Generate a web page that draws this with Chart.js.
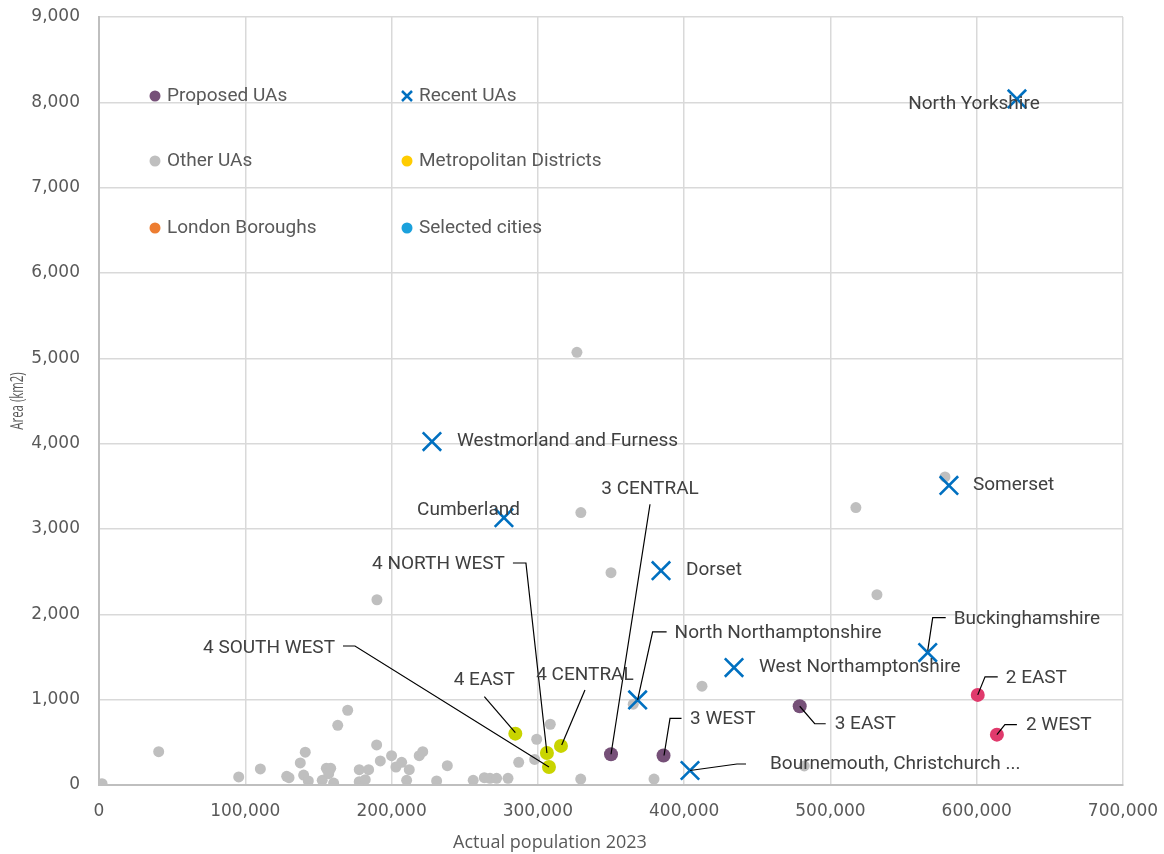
<!DOCTYPE html>
<html>
<head>
<meta charset="utf-8">
<script src="https://cdn.jsdelivr.net/npm/chart.js@4.4.1/dist/chart.umd.min.js"></script>
<style>
  html, body { margin: 0; padding: 0; background: #ffffff; }
  #wrap { width: 1164px; height: 854px; }
</style>
</head>
<body>
<div id="wrap"><canvas id="chart" width="1164" height="854"></canvas></div>
<script>
// ---- Data: population (2023) and area (km2) ----
const recentNames = ['North Yorkshire', 'Somerset', 'Westmorland and Furness', 'Cumberland', 'Dorset',
  'North Northamptonshire', 'West Northamptonshire', 'Buckinghamshire', 'Bournemouth, Christchurch ...'];
const recentPop  = [627500, 581000, 227600, 276800, 384200, 368200, 434100, 566500, 404000];
const recentArea = [8040, 3510, 4025, 3133, 2511, 997, 1376, 1552, 170];

const threeNames = ['3 CENTRAL', '3 WEST', '3 EAST'];
const threePop   = [350000, 385900, 479000];
const threeArea  = [360, 346, 923];

const fourNames = ['4 EAST', '4 NORTH WEST', '4 SOUTH WEST', '4 CENTRAL'];
const fourPop   = [284600, 306200, 307600, 315800];
const fourArea  = [602, 375, 211, 458];

const twoNames = ['2 EAST', '2 WEST'];
const twoPop   = [600700, 613800];
const twoArea  = [1056, 590];

const otherPop = [2100, 40800, 95500, 110300, 128300, 129900, 137600, 141000, 139900, 143100,
  152600, 155400, 158400, 157000, 160400, 163200, 170000, 177900, 184300, 177900,
  182000, 189800, 192300, 200000, 203000, 206900, 212100, 210300, 218900, 221300,
  230800, 238100, 255800, 263400, 267300, 271800, 279600, 286900, 297800, 299200,
  308500, 329300, 379400, 365200, 412200, 482100, 326700, 329400, 350000, 190000,
  517400, 531800, 578300];
const otherArea = [16, 391, 94, 188, 102, 86, 258, 384, 117, 47,
  55, 196, 196, 133, 23, 700, 876, 180, 180, 39,
  62, 469, 282, 344, 211, 266, 180, 55, 344, 391,
  47, 227, 55, 86, 78, 78, 78, 266, 300, 536,
  712, 70, 70, 947, 1158, 223, 5070, 3192, 2488, 2171,
  3251, 2230, 3610];

const metroPop = [], metroArea = [];
const londonPop = [], londonArea = [];
const citiesPop = [], citiesArea = [];

const xTickValues = [0, 100000, 200000, 300000, 400000, 500000, 600000, 700000];
const yTickValues = [0, 1000, 2000, 3000, 4000, 5000, 6000, 7000, 8000, 9000];
const xTitle = 'Actual population 2023';
const yTitle = 'Area (km2)';

const legendOrder = ['Proposed UAs', 'Recent UAs', 'Other UAs', 'Metropolitan Districts', 'London Boroughs', 'Selected cities'];

// ---- Label placement: text offset and leader path, in pixels from the point ----
const labelLayout = {
  'North Yorkshire':          { dx: -43, dy: 5, align: 'center' },
  'Somerset':                 { dx: 24, dy: 0, align: 'left' },
  'Westmorland and Furness':  { dx: 25, dy: 0, align: 'left' },
  'Cumberland':               { dx: 16, dy: -7, align: 'right' },
  'Dorset':                   { dx: 25, dy: 0, align: 'left' },
  'West Northamptonshire':    { dx: 25, dy: 0, align: 'left' },
  'North Northamptonshire':   { dx: 37, dy: -67, align: 'left', leader: [[29, -68], [15, -68], [0, 0]] },
  'Buckinghamshire':          { dx: 26, dy: -33, align: 'left', leader: [[18, -35], [5, -35], [0, -2]] },
  'Bournemouth, Christchurch ...': { dx: 80, dy: -6, align: 'left', leader: [[56, -6.5], [47, -6.5], [0, 0]] },
  '3 CENTRAL':    { dx: 39, dy: -265, align: 'center', leader: [[39, -250], [0, 0]] },
  '3 WEST':       { dx: 26.5, dy: -36.5, align: 'left', leader: [[18, -37], [6.5, -37], [0.5, 0]] },
  '3 EAST':       { dx: 35, dy: 18, align: 'left', leader: [[26, 17.5], [15, 17.5], [0, 0]] },
  '2 EAST':       { dx: 28, dy: -17, align: 'left', leader: [[20, -18], [7.3, -18], [0, 0]] },
  '2 WEST':       { dx: 29, dy: -9, align: 'left', leader: [[20, -10], [8, -10], [0, 0]] },
  '4 EAST':       { dx: -31, dy: -53, align: 'center', leader: [[-31, -37], [0, -1]] },
  '4 CENTRAL':    { dx: 24, dy: -71, align: 'center', leader: [[24, -56], [0.7, -1]] },
  '4 NORTH WEST': { dx: -42, dy: -189, align: 'right', leader: [[-34, -190], [-21, -190], [0, 0]] },
  '4 SOUTH WEST': { dx: -214, dy: -119, align: 'right', leader: [[-206, -121], [-194, -121], [0, 0]] }
};

const toPoints = (xs, ys) => xs.map((x, i) => ({ x: x, y: ys[i] }));

const BLUE = '#0070C0', GREY = '#BFBFBF', PURPLE = '#765078', LIME = '#C9D400', PINK = '#E03A6C';
const LABEL_FONT = '19px Roboto, "Open Sans", sans-serif';

// Text labels with leader lines, placed next to the named points
const pointLabels = {
  id: 'pointLabels',
  afterDatasetsDraw(chart) {
    const ctx = chart.ctx;
    ctx.save();
    chart.data.datasets.forEach((ds, di) => {
      if (!ds.names) return;
      const meta = chart.getDatasetMeta(di);
      ds.names.forEach((name, i) => {
        const lay = labelLayout[name];
        const el = meta.data[i];
        if (!lay || !el) return;
        const px = el.x, py = el.y;
        if (lay.leader) {
          ctx.beginPath();
          ctx.strokeStyle = '#000000';
          ctx.lineWidth = 1.2;
          lay.leader.forEach((p, k) => {
            if (k === 0) ctx.moveTo(px + p[0], py + p[1]);
            else ctx.lineTo(px + p[0], py + p[1]);
          });
          ctx.stroke();
        }
        ctx.font = LABEL_FONT;
        ctx.fillStyle = '#404040';
        ctx.textAlign = lay.align;
        ctx.textBaseline = 'middle';
        ctx.fillText(name, px + lay.dx, py + lay.dy);
      });
    });
    ctx.restore();
  }
};

// Legend drawn inside the plot area, two columns by three rows
const insideLegend = {
  id: 'insideLegend',
  afterDatasetsDraw(chart) {
    const ctx = chart.ctx;
    const ca = chart.chartArea;
    const colX = [ca.left + 56, ca.left + 308];
    const rowY = [ca.top + 79, ca.top + 144, ca.top + 211];
    ctx.save();
    legendOrder.forEach((label, k) => {
      const ds = chart.data.datasets.find(d => d.label === label);
      const x = colX[k % 2], y = rowY[Math.floor(k / 2)];
      if (ds.pointStyle === 'crossRot') {
        ctx.beginPath();
        ctx.strokeStyle = ds.borderColor;
        ctx.lineWidth = 2.5;
        ctx.moveTo(x - 5, y - 5); ctx.lineTo(x + 5, y + 5);
        ctx.moveTo(x + 5, y - 5); ctx.lineTo(x - 5, y + 5);
        ctx.stroke();
      } else {
        ctx.beginPath();
        ctx.fillStyle = ds.backgroundColor;
        ctx.arc(x, y, 5.5, 0, Math.PI * 2);
        ctx.fill();
      }
      ctx.font = LABEL_FONT;
      ctx.fillStyle = '#595959';
      ctx.textAlign = 'left';
      ctx.textBaseline = 'middle';
      ctx.fillText(label, x + 12, y);
    });
    ctx.restore();
  }
};

// Axis titles: a narrow vertical one for area, a horizontal one for population
const axisTitles = {
  id: 'axisTitles',
  afterDraw(chart) {
    const ctx = chart.ctx;
    const ca = chart.chartArea;
    ctx.save();
    ctx.fillStyle = '#595959';
    ctx.textAlign = 'center';
    ctx.textBaseline = 'middle';
    ctx.font = '18px "Open Sans", sans-serif';
    ctx.fillText(xTitle, ca.left + 451, chart.height - 11);
    ctx.translate(18, (ca.top + ca.bottom) / 2);
    ctx.rotate(-Math.PI / 2);
    ctx.scale(0.6, 1);
    ctx.font = '19px "Open Sans", sans-serif';
    ctx.fillText(yTitle, 0, 0);
    ctx.restore();
  }
};

const circle = (label, xs, ys, color, r, names) => ({
  label: label, names: names, data: toPoints(xs, ys),
  pointStyle: 'circle', pointRadius: r, pointHoverRadius: r,
  backgroundColor: color, borderColor: color, borderWidth: 0
});

new Chart(document.getElementById('chart'), {
  type: 'scatter',
  data: {
    datasets: [
      {
        label: 'Recent UAs', names: recentNames, data: toPoints(recentPop, recentArea),
        pointStyle: 'crossRot', pointRadius: 13, pointHoverRadius: 13,
        borderColor: BLUE, backgroundColor: BLUE, borderWidth: 2.6
      },
      circle('Proposed UAs', threePop, threeArea, PURPLE, 7, threeNames),
      circle('Proposed UAs (4)', fourPop, fourArea, LIME, 7, fourNames),
      circle('Proposed UAs (2)', twoPop, twoArea, PINK, 7, twoNames),
      circle('Metropolitan Districts', metroPop, metroArea, '#FFCC00', 6),
      circle('London Boroughs', londonPop, londonArea, '#ED7D31', 6),
      circle('Selected cities', citiesPop, citiesArea, '#1BA1DC', 6),
      circle('Other UAs', otherPop, otherArea, GREY, 5.5)
    ]
  },
  options: {
    responsive: false,
    animation: false,
    events: [],
    layout: { padding: { top: 17, right: 41, bottom: 0, left: 0 } },
    plugins: { legend: { display: false }, tooltip: { enabled: false } },
    scales: {
      x: {
        type: 'linear', min: 0, max: 700000,
        afterFit(scale) {
          scale.height = 69;
          scale.paddingLeft = 0; scale.paddingRight = 0;
        },
        afterBuildTicks(scale) { scale.ticks = xTickValues.map(v => ({ value: v })); },
        grid: { color: '#D9D9D9', lineWidth: 1.5, drawTicks: false },
        border: { color: '#BFBFBF', width: 2 },
        ticks: {
          padding: 16, color: '#595959',
          font: { family: '"DejaVu Sans", sans-serif', size: 17 },
          callback: v => v.toLocaleString('en-US')
        },
        title: { display: false }
      },
      y: {
        type: 'linear', min: 0, max: 9000,
        afterFit(scale) {
          scale.width = 99;
          scale.paddingTop = 0; scale.paddingBottom = 0;
        },
        afterBuildTicks(scale) { scale.ticks = yTickValues.map(v => ({ value: v })); },
        grid: { color: '#D9D9D9', lineWidth: 1.5, drawTicks: false },
        border: { color: '#BFBFBF', width: 2 },
        ticks: {
          padding: 19, color: '#595959',
          font: { family: '"DejaVu Sans", sans-serif', size: 17 },
          callback: v => v.toLocaleString('en-US')
        },
        title: { display: false }
      }
    }
  },
  plugins: [pointLabels, insideLegend, axisTitles]
});
</script>
</body>
</html>
